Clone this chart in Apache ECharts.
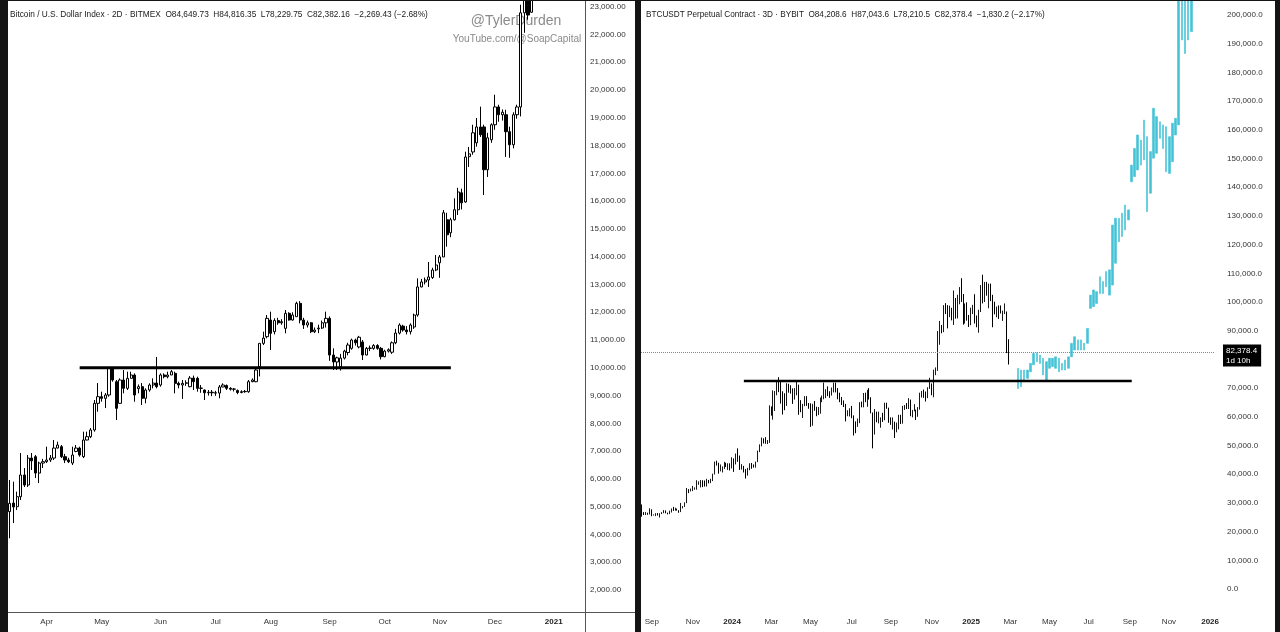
<!DOCTYPE html>
<html><head><meta charset="utf-8">
<script src="https://cdn.jsdelivr.net/npm/echarts@6/dist/echarts.min.js"></script>
<style>html,body{margin:0;padding:0;background:#fff}#c{width:1280px;height:632px}</style>
</head><body><div id="c"></div><script>
// ---------------- DATA ----------------
const leftStart = '2020-03-12';     // 2D candles
const leftStepDays = 2;
const leftSlotCount = 157;
const rightStart = '2023-08-17';    // 3D candles
const rightStepDays = 3;
const rightSlotCount = 293;
const cyanSlotCount = 182;          // projected bars pattern slots
const cyanFirstSlot = 119;

const leftTitle = 'Bitcoin / U.S. Dollar Index · 2D · BITMEX  O84,649.73  H84,816.35  L78,229.75  C82,382.16  −2,269.43 (−2.68%)';
const rightTitle = 'BTCUSDT Perpetual Contract · 3D · BYBIT  O84,208.6  H87,043.6  L78,210.5  C82,378.4  −1,830.2 (−2.17%)';
const watermark1 = '@TylerDurden';
const watermark2 = 'YouTube.com/@SoapCapital';
const lastPrice = 82378.4;
const lastPriceCountdown = '1d 10h';

const leftTicks = [2000,3000,4000,5000,6000,7000,8000,9000,10000,11000,12000,13000,14000,15000,16000,17000,18000,19000,20000,21000,22000,23000];
const rightTicks = [0,10000,20000,30000,40000,50000,60000,70000,80000,90000,100000,110000,120000,130000,140000,150000,160000,170000,180000,190000,200000];
const leftAxisMin = 1208, leftAxisMax = 23241;
const rightAxisMin = -8014, rightAxisMax = 205226;

const leftSupport = {value: 10000, from: '2020-04-19', to: '2020-11-07'};
const rightSupport = {value: 72500, from: '2024-01-20', to: '2025-09-05'};

// [open, high, low, close]
const leftOHLC = [
[4820,5960,3860,5120],[5130,5900,4410,4990],[5000,5540,4880,5360],[5360,6930,5240,6140],[6140,6390,5710,5780],
[5780,6860,5710,6750],[6750,6930,6320,6650],[6800,6860,6030,6210],[6210,6620,5850,6570],[6570,6720,6390,6620],
[6620,7160,6570,6680],[6680,6860,6610,6750],[6750,7400,6680,7110],[7110,7340,7100,7220],[7160,7220,6750,6800],
[6800,6900,6570,6680],[6680,6760,6570,6620],[6570,7160,6500,6860],[6990,7220,6960,7110],[7110,7160,6800,6860],
[6800,7700,6750,7400],[7400,7700,7390,7520],[7520,7830,7470,7760],[7760,8840,7700,8720],[8720,9450,8420,8960],
[8960,9140,8780,8900],[8900,9090,8550,9020],[9020,10000,8960,9980],[9980,10000,9500,9560],[9500,9560,8120,8540],
[8720,9620,8700,9560],[9560,9920,9080,9260],[9260,9860,9200,9620],[9620,9860,9620,9740],[9740,9800,8780,9020],
[9250,9400,9080,9320],[9320,9450,8660,8900],[8900,9260,8720,9200],[9200,9440,9140,9380],[9380,9620,9260,9450],
[9450,10390,9260,9320],[9380,9800,9320,9740],[9740,9800,9620,9680],[9680,9860,9620,9740],[9740,9920,9740,9860],
[9800,9860,9080,9440],[9440,9500,9260,9380],[9380,9560,8880,9440],[9440,9550,9350,9460],[9320,9700,9300,9630],
[9630,9720,9200,9500],[9620,9680,9140,9260],[9260,9380,9100,9270],[9200,9220,8840,9100],[9100,9200,9000,9120],
[9120,9200,8980,9100],[9100,9170,8990,9090],[9090,9380,8900,9310],[9310,9440,9300,9380],[9360,9400,9200,9260],
[9260,9300,9180,9230],[9230,9270,9150,9235],[9180,9220,9050,9110],[9110,9190,9080,9140],[9140,9200,9100,9150],
[9140,9560,9100,9500],[9500,9620,9480,9560],[9500,9980,9480,9920],[10040,10880,9690,10880],[10880,11300,10820,11070],
[11120,11900,11060,11780],[11720,12020,10640,11240],[11300,11780,11200,11700],[11700,11800,11550,11620],[11620,11750,11550,11660],
[11420,12080,11240,11960],[11960,12000,11700,11720],[11720,12000,11700,11900],[11840,12380,11840,12320],[12320,12400,11600,11720],
[11720,11800,11400,11540],[11540,11700,11450,11620],[11620,11650,11250,11300],[11300,11450,11250,11360],[11400,11550,11250,11430],
[11430,11700,11400,11620],[11620,12020,11450,11780],[11780,11850,10250,10460],[10460,10700,9920,10210],[10210,10400,9920,10360],
[10040,10500,9900,10350],[10350,10650,10300,10600],[10550,10900,10450,10820],[10700,11050,10650,11000],[11000,11050,10800,10900],
[10750,11150,10700,11100],[10930,11000,10280,10460],[10460,10750,10450,10700],[10700,10800,10600,10710],[10700,10850,10650,10800],
[10800,10850,10650,10700],[10700,10750,10300,10400],[10400,10650,10380,10600],[10600,10700,10550,10650],[10560,10950,10500,10900],
[10900,11400,10850,11250],[11250,11600,11200,11540],[11500,11550,11300,11360],[11360,11500,11200,11300],[11300,11600,11200,11540],
[11470,11950,11400,11900],[11900,13220,11840,12910],[12910,13200,12900,13090],[13090,13250,13000,13160],[13160,13810,12910,13270],
[13250,13600,13200,13520],[13520,14060,13480,13700],[13780,14060,13240,13990],[13990,15680,13990,15580],[15330,15580,14360,14790],
[14860,15400,14700,15330],[15330,16100,15300,15690],[15690,16480,15500,16330],[16300,16450,15700,15940],[15970,17780,15940,17590],
[17600,17950,17230,17700],[17770,18750,17670,18460],[18100,18990,17960,18670],[18670,19400,18310,18390],[18670,18750,16220,17130],
[17130,18460,16870,18280],[18210,18800,18100,18750],[18750,19830,18570,19390],[19390,19470,18860,19110],[19110,19300,18900,19200],
[19110,19290,17590,18500],[18500,18680,17560,18030],[18030,19200,17900,19110],[19110,19470,18970,19390],[19390,23070,19050,22780],
[22780,24300,22060,23600],[23700,24100,22530,22700],[22800,24100,22780,23800]
];

const rightOHLC = [
[29400,29450,25200,26620],[26620,26800,25800,26190],[26190,26800,25800,26430],[26430,26570,25860,26010],[26010,28140,25980,27720],
[27720,27760,25350,25800],[25800,26000,25600,25800],[25800,26400,25400,26250],[26250,26450,25600,25850],[25850,26400,24900,26230],
[26230,26780,26120,26540],[26540,27480,26400,27200],[27200,27380,26380,26580],[26580,26620,26000,26300],[26300,27300,26100,27030],
[27030,28060,26650,27990],[27990,28600,27200,27790],[27790,28300,27300,27950],[27950,28000,27300,27400],[27400,27450,26550,26850],
[26850,30000,26800,28500],[28500,28900,28100,28700],[28700,30200,28600,30000],[30000,35200,29900,34500],[34500,34800,33400,34100],
[34100,35000,34000,34650],[34650,35900,34100,34750],[34750,35400,34600,35050],[35050,37900,34600,36700],[36700,37500,36300,37060],
[37060,37950,35400,37880],[37880,37900,35500,36580],[36580,37800,35700,35800],[35800,38400,35700,37720],[37720,38000,36800,37250],
[37250,38400,36900,37720],[37720,40200,37600,39970],[39970,44400,39900,43800],[43800,44700,43000,43700],[43700,44000,40200,41500],
[41500,43400,41000,41950],[41950,42700,40600,42650],[42650,44300,41800,43900],[43900,44000,42500,43000],[43000,43800,41500,43450],
[43450,43800,41300,42100],[42100,45900,42000,45000],[45000,45500,40800,44150],[44150,47200,43400,46900],[46900,49000,44300,46350],
[46350,46500,41500,41700],[41700,43500,41600,42750],[42750,42900,40600,41600],[41600,41800,38500,39900],[39900,42200,39500,41800],
[41800,43800,41400,43300],[43300,43900,41900,43100],[43100,43400,42300,42600],[42600,44400,42300,44300],[44300,48200,44200,47800],
[47800,50400,47700,49700],[49700,52800,49700,52100],[52100,52500,50700,51800],[51800,52900,50600,51300],[51300,51900,50500,51700],
[51700,64000,50900,62500],[62500,63600,60400,62000],[62000,69200,59000,63800],[63800,69000,62000,68300],[68300,72800,67500,72100],
[72100,73800,68600,71400],[71400,72400,64600,68400],[68400,68900,60800,67900],[67900,68200,62300,64100],[64100,71700,63800,69900],
[69900,71500,68400,69800],[69800,71000,68100,69700],[69700,69900,64500,68500],[68500,70000,66000,69400],[69400,72700,67500,70600],
[70600,71200,60700,63800],[63800,65800,61600,63400],[63400,64500,59600,63800],[63800,67200,63700,66800],[66800,67200,63800,64500],
[64500,64800,62800,63100],[63100,64700,56500,58300],[58300,64500,56900,64000],[64000,65500,62100,62300],[62300,63500,60200,60800],
[60800,63400,60600,62900],[62900,66700,61100,65200],[65200,67400,65100,66300],[66300,71900,66100,69100],[69100,69600,66500,69300],
[69300,70600,67200,68300],[68300,68900,66600,67500],[67500,70200,67400,68800],[68800,71900,68500,70800],[70800,71900,68500,69600],
[69600,70000,66100,68200],[68200,68400,65100,66200],[66200,66900,64100,65100],[65100,65700,63400,64100],[64100,64500,58400,60300],
[60300,62300,60200,61600],[61600,63000,60100,62700],[62700,63800,59500,60200],[60200,60500,53500,58200],[58200,58400,54300,57900],
[57900,59400,56500,58000],[58000,65100,57800,64800],[64800,65300,63300,63900],[63900,68300,63300,68200],[68200,68400,65100,65400],
[65400,69400,63500,67900],[67900,70000,66000,66200],[66200,66800,61200,61400],[61400,61500,49000,54000],[54000,62700,53800,61700],
[61700,61800,58100,58700],[58700,61800,57700,58800],[58800,59800,56200,59500],[59500,61400,58200,59000],[59000,64900,58800,64100],
[64100,64900,62800,62900],[62900,63200,57900,59400],[59400,59800,57200,57300],[57300,59800,55600,57900],[57900,58300,52600,54800],
[54800,58000,54600,57600],[57600,60700,55600,60500],[60500,60700,57500,58200],[58200,63800,57600,62900],[62900,64100,62400,63300],
[63300,64800,62700,63100],[63100,66500,62700,65800],[65800,66000,60200,60800],[60800,62400,59800,62100],[62100,64400,61900,62300],
[62300,62500,58900,60300],[60300,63400,60000,62900],[62900,68400,62500,67600],[67600,69000,66700,68400],[68400,69500,66600,67400],
[67400,68800,65300,66600],[66600,70300,66500,69900],[69900,73600,69700,70200],[70200,71600,67500,68800],[68800,76400,66800,75900],
[75900,77200,74500,76600],[76600,89900,76000,88000],[88000,93400,85100,91000],[91000,92000,89100,90500],[90500,98900,89500,98400],
[98400,99600,95800,97800],[97800,98900,90800,96000],[96000,98700,94700,96400],[96400,98000,93600,96000],[96000,104000,92000,99900],
[99900,101400,94200,97400],[97400,102500,94300,100000],[100000,105200,99200,104300],[104300,108300,100000,100200],[100200,102800,92100,97300],
[97300,99500,92500,98700],[98700,99900,93500,94200],[94200,95500,91300,92800],[92800,98000,91900,96900],[96900,99000,95800,98300],
[98300,102700,92500,95000],[95000,95300,91200,94600],[94600,97300,89300,96500],[96500,105900,96500,104100],[104100,109500,99500,102000],
[102000,107000,100000,104000],[104000,107000,102200,102600],[102600,106400,97800,104700],[104700,106400,100300,100600],[100600,102500,91200,98000],
[98000,100100,95700,96500],[96500,98400,94700,97400],[97400,98800,94100,96600],[96600,98800,96000,96100],[96100,97000,93400,96600],
[96600,99500,95800,96600],[96600,96700,82200,84208.6],[84208.6,87043.6,78210.5,82378.4]
];

// projected (bars pattern) [low, high]
const cyanHL = [
[69900,76900],[70500,76300],[72800,76300],[73400,76300],[75700,78600],[78100,82100],[79200,82300],[78600,81500],
[74600,80400],[72800,79200],[76900,80400],[77500,80400],[76900,80900],[75700,80400],[76300,78600],[76300,79800],
[76900,80900],[80900,85600],[83300,87900],[83300,86800],[83300,86800],[83300,85600],[85600,90800],[97800,102400],
[98400,104200],[99500,103600],[103000,108800],[103000,107100],[105300,110600],[102400,111200],[105900,126800],[113500,129200],
[121000,129200],[122800,130900],[125100,133800],[128600,132100],[141900,147700],[143700,153500],[146000,158200],[147700,156400],
[149500,163400],[131500,157600],[137900,152400],[150100,167500],[151800,164600],[157000,162800],[153500,161700],[145400,161100],
[144800,157600],[148900,162300],[158200,164000],[161700,215000],[191300,215000],[186600,215000],[191300,215000],[194200,215000]
];

// ---------------- BUILD ----------------
function makeDates(start, step, n) {
  const out = [], t0 = Date.parse(start + 'T00:00:00Z');
  for (let i = 0; i < n; i++) out.push(new Date(t0 + i * step * 86400000).toISOString().slice(0, 10));
  return out;
}
const leftDates = makeDates(leftStart, leftStepDays, leftSlotCount);
const rightDates = makeDates(rightStart, rightStepDays, rightSlotCount);
const cyanSlots = Array.from({length: cyanSlotCount}, (_, i) => 'P' + i);
const MONTHS = ['Jan','Feb','Mar','Apr','May','Jun','Jul','Aug','Sep','Oct','Nov','Dec'];
const FONT = 'Liberation Sans, Arial, sans-serif';

function labelInterval(dates, oddOnly) {
  return function (index, value) {
    if (index === 0) return false;
    const m = +value.slice(5, 7), pm = +dates[index - 1].slice(5, 7);
    if (m === pm) return false;
    return oddOnly ? (m % 2 === 1) : true;
  };
}
function labelFmt(v) {
  const m = +v.slice(5, 7);
  return m === 1 ? '{b|' + v.slice(0, 4) + '}' : MONTHS[m - 1];
}
const toCandle = d => [d[0], d[3], d[2], d[1]];
const fmt = (v, n) => v.toLocaleString('en-US', {minimumFractionDigits: n, maximumFractionDigits: n});

const xLabel = (dates, odd) => ({
  interval: labelInterval(dates, odd), formatter: labelFmt, fontSize: 8, color: '#333', margin: 6,
  fontFamily: FONT, rich: {b: {fontWeight: 'bold', fontSize: 8, color: '#222', fontFamily: FONT}}
});

const chart = echarts.init(document.getElementById('c'), null, {renderer: 'canvas'});
chart.setOption({
  animation: false,
  backgroundColor: '#ffffff',
  grid: [
    {left: 8, top: 0, width: 577, height: 612},
    {left: 641, top: 0, width: 574, height: 612}
  ],
  xAxis: [
    {type: 'category', gridIndex: 0, data: leftDates, boundaryGap: true,
     axisLine: {show: false}, axisTick: {show: false}, splitLine: {show: false}, axisLabel: xLabel(leftDates, false)},
    {type: 'category', gridIndex: 1, data: rightDates, boundaryGap: true,
     axisLine: {show: false}, axisTick: {show: false}, splitLine: {show: false}, axisLabel: xLabel(rightDates, true)},
    {type: 'category', gridIndex: 1, data: cyanSlots, boundaryGap: true, show: false}
  ],
  yAxis: [
    {type: 'value', gridIndex: 0, position: 'right', min: leftAxisMin, max: leftAxisMax,
     splitLine: {show: false}, axisLine: {show: false}, axisTick: {show: false},
     axisLabel: {customValues: leftTicks, formatter: v => fmt(v, 2), fontSize: 8, color: '#333', margin: 5, fontFamily: FONT}},
    {type: 'value', gridIndex: 1, position: 'right', min: rightAxisMin, max: rightAxisMax,
     splitLine: {show: false}, axisLine: {show: false}, axisTick: {show: false},
     axisLabel: {customValues: rightTicks, formatter: v => fmt(v, 1), fontSize: 8, color: '#333', margin: 12, fontFamily: FONT}}
  ],
  series: [
    {type: 'candlestick', xAxisIndex: 0, yAxisIndex: 0, data: leftOHLC.map(toCandle), barWidth: 2.7, clip: true,
     itemStyle: {color: '#ffffff', color0: '#000000', borderColor: '#000000', borderColor0: '#000000', borderWidth: 1}},
    {type: 'line', xAxisIndex: 0, yAxisIndex: 0, symbol: 'none', z: 5,
     data: [[leftSupport.from, leftSupport.value], [leftSupport.to, leftSupport.value]],
     lineStyle: {color: '#000', width: 3}},
    {type: 'candlestick', xAxisIndex: 1, yAxisIndex: 1, data: rightOHLC.map(toCandle), barWidth: 1.3, clip: true,
     itemStyle: {color: '#ffffff', color0: '#000000', borderColor: '#1a1a1a', borderColor0: '#000000', borderWidth: 1},
     markLine: {
       silent: true, symbol: ['none', 'none'], animation: false,
       data: [{yAxis: lastPrice}],
       lineStyle: {type: 'dotted', color: '#888', width: 1},
       label: {show: true, position: 'end', distance: 8, offset: [0, 3], formatter: fmt(lastPrice, 1) + '\n' + lastPriceCountdown,
               backgroundColor: '#000', color: '#fff', fontSize: 8, lineHeight: 10, padding: [1, 4, 1, 3], fontFamily: FONT, align: 'left'}
     }},
    {type: 'line', xAxisIndex: 1, yAxisIndex: 1, symbol: 'none', z: 5,
     data: [[rightSupport.from, rightSupport.value], [rightSupport.to, rightSupport.value]],
     lineStyle: {color: '#000', width: 2.5}},
    {type: 'candlestick', xAxisIndex: 2, yAxisIndex: 1, barWidth: 2, clip: true,
     encode: {x: 0, y: [1, 2, 3, 4]},
     data: cyanHL.map((d, k) => [cyanFirstSlot + k, d[0], d[1], d[0], d[1]]),
     itemStyle: {color: '#45c3d6', color0: '#45c3d6', borderColor: '#45c3d6', borderColor0: '#45c3d6', borderWidth: 0.6}}
  ],
  graphic: [
    {type: 'text', z: 0, style: {x: 516, y: 21, text: watermark1, fill: '#8a8a8a', font: '14px ' + FONT, textAlign: 'center', textVerticalAlign: 'middle'}},
    {type: 'text', z: 0, style: {x: 517, y: 39, text: watermark2, fill: '#8a8a8a', font: '10px ' + FONT, textAlign: 'center', textVerticalAlign: 'middle'}},
    {type: 'text', z: 10, style: {x: 10, y: 15, text: leftTitle, fill: '#1a1a1a', font: '8.3px ' + FONT, textVerticalAlign: 'middle'}},
    {type: 'text', z: 10, style: {x: 646, y: 15, text: rightTitle, fill: '#1a1a1a', font: '8.2px ' + FONT, textVerticalAlign: 'middle'}},
    {type: 'line', z: 10, shape: {x1: 585.5, y1: 0, x2: 585.5, y2: 632}, style: {stroke: '#555', lineWidth: 1}},
    {type: 'line', z: 10, shape: {x1: 8, y1: 612.5, x2: 636, y2: 612.5}, style: {stroke: '#555', lineWidth: 1}},
    {type: 'rect', z: 20, shape: {x: 0, y: 0, width: 8, height: 632}, style: {fill: '#141414'}},
    {type: 'rect', z: 20, shape: {x: 635, y: 0, width: 6, height: 632}, style: {fill: '#141414'}},
    {type: 'rect', z: 20, shape: {x: 1275, y: 0, width: 5, height: 632}, style: {fill: '#141414'}},
    {type: 'rect', z: 20, shape: {x: 0, y: 0, width: 1280, height: 1}, style: {fill: '#141414'}}
  ]
});
</script></body></html>
